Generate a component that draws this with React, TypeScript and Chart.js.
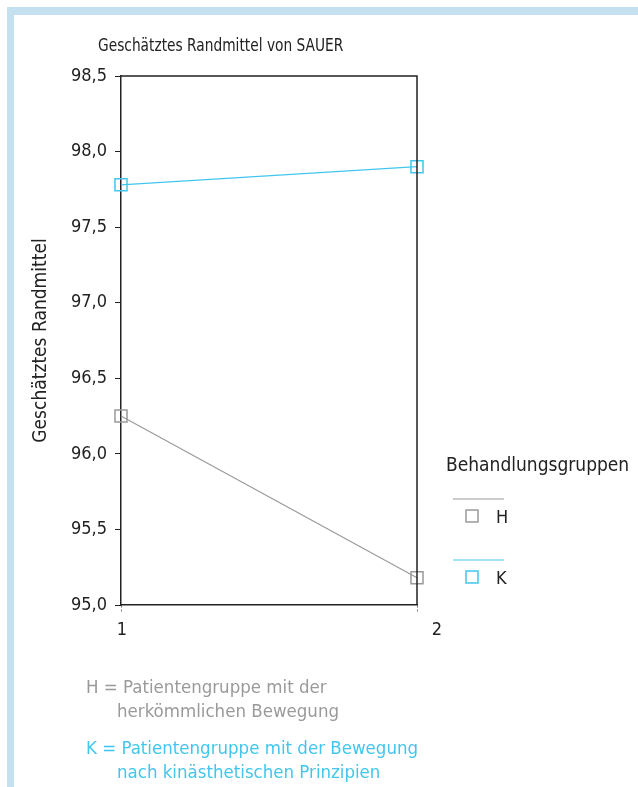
import React, { useEffect, useRef } from "react";
import { Chart, registerables } from "chart.js";

Chart.register(...registerables);

const xValues = [1, 2];
const xTickLabels = ["1", "2"];
const seriesLabels = ["H", "K"];
const seriesH = [96.25, 95.18];
const seriesK = [97.78, 97.9];
const yTicksMin = 95.0;
const yTicksMax = 98.5;
const yStep = 0.5;

const GRAY = "#9a9a9a";
const CYAN = "#42c6ee";
const FONT = '"Liberation Sans Narrow", "DejaVu Sans Condensed", "Noto Sans", sans-serif';

export default function App() {
  const ref = useRef<HTMLCanvasElement | null>(null);

  useEffect(() => {
    document.body.style.margin = "0";
    const canvas = ref.current!;
    const boxPlugin = {
      id: "boxPlugin",
      afterDraw(chart: any) {
        const { ctx, chartArea } = chart;
        ctx.save();
        ctx.strokeStyle = "#222";
        ctx.lineWidth = 1.5;
        ctx.beginPath();
        ctx.moveTo(chartArea.left, chartArea.top);
        ctx.lineTo(chartArea.right, chartArea.top);
        ctx.lineTo(chartArea.right, chartArea.bottom);
        ctx.stroke();
        // x labels
        const xs = chart.scales.x;
        ctx.fillStyle = "#222";
        ctx.font = `18px ${FONT}`;
        ctx.textAlign = "center";
        ctx.textBaseline = "middle";
        xValues.forEach((v, i) => {
          const px = xs.getPixelForValue(v) + (i === xValues.length - 1 ? 20 : 1);
          ctx.fillText(xTickLabels[i], px, chartArea.bottom + 25);
        });
        // legend
        const lx = chartArea.right + 28;
        ctx.textAlign = "left";
        ctx.fillStyle = "#222";
        ctx.font = `19px ${FONT}`;
        ctx.fillText("Behandlungsgruppen", lx + 1, 466);
        ctx.font = `18px ${FONT}`;
        chart.data.datasets.forEach((ds: any, i: number) => {
          const y0 = 499 + i * 61;
          ctx.strokeStyle = ds.borderColor;
          ctx.lineWidth = 1.2;
          ctx.beginPath();
          ctx.moveTo(lx + 8, y0);
          ctx.lineTo(lx + 59, y0);
          ctx.stroke();
          ctx.lineWidth = 1.5;
          ctx.strokeRect(lx + 21, y0 + 11, 12, 12);
          ctx.fillStyle = "#222";
          ctx.fillText(ds.label, lx + 51, y0 + 19);
        });
        ctx.restore();
      },
    };

    const chart = new Chart(canvas, {
      type: "line",
      data: {
        datasets: [
          {
            label: seriesLabels[0],
            data: xValues.map((x, i) => ({ x, y: seriesH[i] })),
            borderColor: GRAY,
            backgroundColor: "rgba(0,0,0,0)",
            borderWidth: 1.2,
            pointStyle: "rect",
            pointRadius: 8.5,
            pointBorderWidth: 1.5,
            pointBorderColor: GRAY,
            pointBackgroundColor: "rgba(0,0,0,0)",
            clip: false,
          },
          {
            label: seriesLabels[1],
            data: xValues.map((x, i) => ({ x, y: seriesK[i] })),
            borderColor: CYAN,
            backgroundColor: "rgba(0,0,0,0)",
            borderWidth: 1.2,
            pointStyle: "rect",
            pointRadius: 8.5,
            pointBorderWidth: 1.5,
            pointBorderColor: CYAN,
            pointBackgroundColor: "rgba(0,0,0,0)",
            clip: false,
          },
        ],
      },
      options: {
        animation: false,
        responsive: false,
        devicePixelRatio: 1,
        layout: { padding: { left: 26, top: 76, right: 221, bottom: 142 } },
        plugins: { legend: { display: false }, tooltip: { enabled: false }, title: { display: false } },
        scales: {
          x: {
            type: "linear",
            min: xValues[0],
            max: xValues[xValues.length - 1],
            ticks: { display: false, stepSize: 1 },
            grid: { drawOnChartArea: false, drawTicks: true, tickLength: 7, color: "#777", tickBorderDash: [2, 2] },
            border: { display: true, color: "#222", width: 1.5 },
            afterFit: (s: any) => { s.height = 40; },
          },
          y: {
            min: yTicksMin,
            max: yTicksMax,
            ticks: {
              stepSize: yStep,
              color: "#222",
              padding: 8,
              font: { family: FONT, size: 18 },
              callback: (v: any) => Number(v).toFixed(1).replace(".", ","),
            },
            grid: { drawOnChartArea: false, drawTicks: true, tickLength: 6, color: "#222" },
            border: { display: true, color: "#222", width: 1.5 },
            title: {
              display: true,
              text: "Geschätztes Randmittel",
              color: "#222",
              font: { family: FONT, size: 19 },
              padding: 4,
            },
            afterFit: (s: any) => { s.width = 95; },
          },
        },
      },
      plugins: [boxPlugin],
    });
    return () => chart.destroy();
  }, []);

  const textStyle: React.CSSProperties = { position: "absolute", fontFamily: FONT, fontSize: 18.5, whiteSpace: "nowrap", lineHeight: "24px" };

  return (
    <div style={{ position: "relative", width: 638, height: 787, overflow: "hidden", background: "#fff" }}>
      <div style={{ position: "absolute", left: 7, top: 7, width: 631, height: 8, background: "#c5e0ee" }} />
      <div style={{ position: "absolute", left: 7, top: 7, width: 7, height: 780, background: "#c5e0ee" }} />
      <canvas ref={ref} width={638} height={787} style={{ position: "absolute", left: 0, top: 0 }} />
      <div style={{ ...textStyle, fontSize: 18, left: 98, top: 33, color: "#222", transform: "scaleX(0.85)", transformOrigin: "left center" }}>Geschätztes Randmittel von SAUER</div>
      <div style={{ ...textStyle, left: 86, top: 675, color: GRAY }}>H = Patientengruppe mit der</div>
      <div style={{ ...textStyle, left: 117, top: 699, color: GRAY }}>herkömmlichen Bewegung</div>
      <div style={{ ...textStyle, left: 86, top: 736, color: CYAN }}>K = Patientengruppe mit der Bewegung</div>
      <div style={{ ...textStyle, left: 117, top: 760, color: CYAN }}>nach kinästhetischen Prinzipien</div>
    </div>
  );
}
